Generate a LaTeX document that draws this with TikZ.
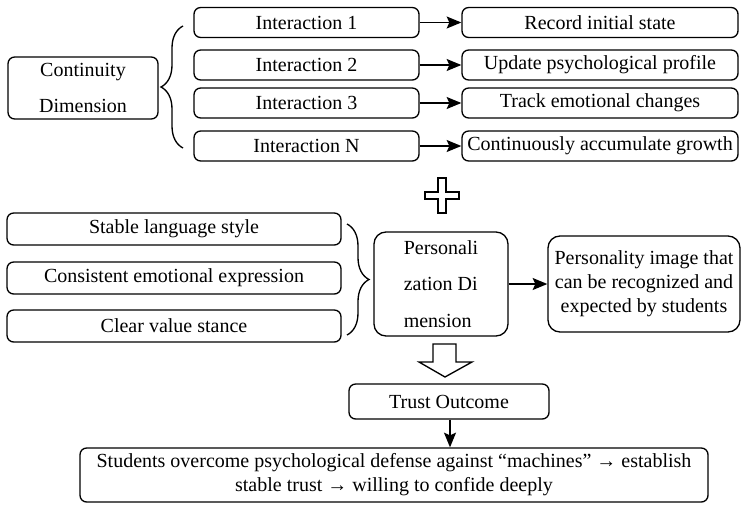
\documentclass[tikz,border=0pt]{standalone}
\usepackage{fontspec}
\setmainfont{LiberationSerif}[Extension=.ttf, UprightFont=*-Regular, BoldFont=*-Bold,
  ItalicFont=*-Italic, BoldItalicFont=*-BoldItalic]
\usetikzlibrary{arrows.meta,positioning,calc,decorations.pathreplacing}

\tikzset{
  box/.style={draw, line width=1pt, rounded corners=5pt, inner sep=0pt, align=center,
    font=\fontsize{15}{18}\selectfont},
  intbox/.style={box, minimum width=168.75pt, minimum height=22.5pt},
  resbox/.style={box, minimum width=207pt, minimum height=22.5pt},
  featbox/.style={box, minimum width=250.5pt, minimum height=24pt},
  arr/.style={line width=1pt, -{Stealth[length=11pt,width=9pt,inset=2pt]}},
  bracel/.style={line width=1pt, decorate, decoration={brace, amplitude=16.5pt}},
}

\begin{document}
\begin{tikzpicture}[x=0.75pt,y=-0.75pt]
  \useasboundingbox (0,0) rectangle (742,504);
  % 连续性维度
  \node[box, minimum width=112.5pt, minimum height=46.5pt,
    font=\fontsize{15}{27}\selectfont] (cont) at (83,88) {Continuity\\Dimension};
  \node[intbox] (int1) at (306.5,22.5) {Interaction 1};
  \node[intbox] (int2) at (306.5,65) {Interaction 2};
  \node[intbox] (int3) at (306.5,103) {Interaction 3};
  \node[intbox] (intN) at (306.5,146) {Interaction N};
  \node[resbox] (res1) at (600,22.5) {Record initial state};
  \node[resbox] (res2) at (600,65) {Update psychological profile};
  \node[resbox] (res3) at (600,103) {Track emotional changes};
  \node[resbox] (resN) at (600,146) {Continuously accumulate growth};
  \draw[bracel] (183,148) -- (183,26); % 左括号
  \draw[arr] (int1) -- (res1);
  \draw[arr] (int2) -- (res2);
  \draw[arr] (int3) -- (res3);
  \draw[arr] (intN) -- (resN);
  % 加号
  \draw[line width=1pt] (438,178) -- (446,178) -- (446,192) -- (459,192) -- (459,199)
    -- (446,199) -- (446,213) -- (438,213) -- (438,199) -- (425,199) -- (425,192)
    -- (438,192) -- cycle;
  % 个性化维度
  \node[featbox] (feat1) at (174,229) {Stable language style};
  \node[featbox] (feat2) at (174,278) {Consistent emotional expression};
  \node[featbox] (feat3) at (174,326) {Clear value stance};
  \draw[bracel] (347,224) -- (347,335); % 右括号
  \node[box, rounded corners=9pt, minimum width=100.5pt, minimum height=78pt, align=left,
    font=\fontsize{15}{27.5}\selectfont] (pers) at (441,284) {Personali\\zation Di\\mension};
  \node[box, rounded corners=9pt, minimum width=144pt, minimum height=72pt] (image) at (644,284)
    {Personality image that\\can be recognized and\\expected by students};
  \draw[arr] (pers) -- (image);
  % 空心箭头
  \draw[line width=1pt] (433,344) -- (456,344) -- (456,362) -- (472,362) -- (445,377)
    -- (419,362) -- (433,362) -- cycle;
  % 信任结果
  \node[box, minimum width=150pt, minimum height=26.25pt] (trust) at (449,401.5) {Trust Outcome};
  \node[box, minimum width=471pt, minimum height=40.5pt] (final) at (394,475)
    {Students overcome psychological defense against “machines” → establish\\stable trust → willing to confide deeply};
  \draw[arr] (trust.south -| 450,0) -- (final.north -| 450,0);
\end{tikzpicture}
\end{document}
